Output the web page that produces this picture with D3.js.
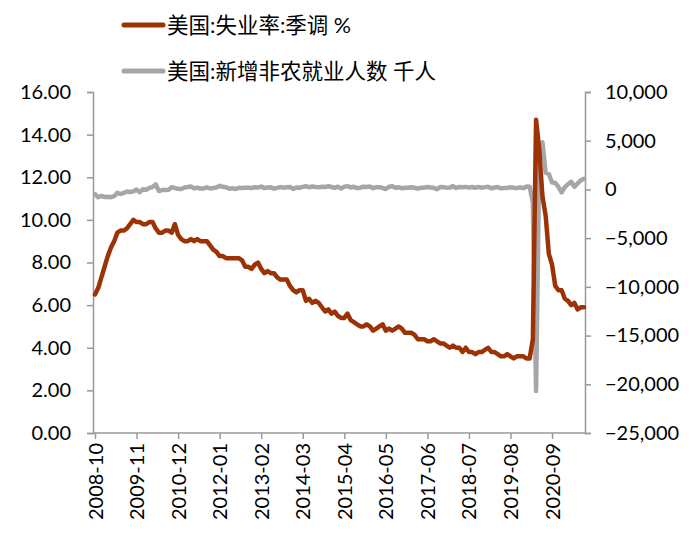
<!DOCTYPE html>
<html><head><meta charset="utf-8">
<script src="https://cdn.jsdelivr.net/npm/d3@7"></script>
<style>body{margin:0;background:#fff}text{font-family:Lato,"Noto Sans CJK SC",sans-serif}</style>
</head><body><div id="chart"></div>
<script>
// monthly series from 2008-10 to 2021-07
const startYear = 2008, startMonth = 10;
const unemployment = [
  6.5,6.8,7.3,
  7.8,8.3,8.7,9.0,9.4,9.5,9.5,9.6,9.8,10.0,9.9,9.9,
  9.8,9.8,9.9,9.9,9.6,9.4,9.4,9.5,9.5,9.4,9.8,9.3,
  9.1,9.0,9.0,9.1,9.0,9.1,9.0,9.0,9.0,8.8,8.6,8.5,
  8.3,8.3,8.2,8.2,8.2,8.2,8.2,8.1,7.8,7.8,7.7,7.9,
  8.0,7.7,7.5,7.6,7.5,7.5,7.3,7.2,7.2,7.2,6.9,6.7,
  6.6,6.7,6.7,6.2,6.3,6.1,6.2,6.1,5.9,5.7,5.8,5.6,
  5.7,5.5,5.4,5.4,5.6,5.3,5.2,5.1,5.0,5.0,5.1,5.0,
  4.8,4.9,5.0,5.1,4.8,4.9,4.8,4.9,5.0,4.9,4.7,4.7,
  4.7,4.6,4.4,4.4,4.4,4.3,4.3,4.4,4.3,4.2,4.2,4.1,
  4.0,4.1,4.0,4.0,3.8,4.0,3.8,3.8,3.7,3.8,3.8,3.9,
  4.0,3.8,3.8,3.7,3.6,3.6,3.7,3.6,3.5,3.6,3.6,3.6,
  3.5,3.5,4.4,14.7,13.3,11.1,10.2,8.4,7.9,6.9,6.7,6.7,
  6.3,6.2,6.0,6.1,5.8,5.9,5.9
];
const payrolls = [
  -489,-803,-661,
  -784,-743,-800,-695,-345,-469,-351,-212,-258,-199,-7,-280,
  19,-57,158,249,514,-167,-70,-51,-24,230,133,76,
  43,195,244,302,107,186,84,102,220,94,140,197,
  367,264,223,78,114,44,165,150,174,183,153,220,
  187,291,135,192,217,87,159,243,182,214,250,56,
  187,168,264,329,219,304,242,232,269,246,320,247,
  159,286,105,280,337,193,268,133,174,285,255,295,
  132,236,232,147,42,279,323,170,221,128,180,173,
  219,170,73,175,182,240,209,180,14,254,234,175,
  185,346,148,260,230,258,184,256,173,256,178,236,
  267,108,200,242,110,158,159,221,176,149,213,131,
  300,285,-1373,-20679,2833,4846,1726,1583,716,680,264,-306,
  233,536,785,269,614,938,1091
];
const months = unemployment.map((d, i) => {
  const m = startMonth - 1 + i;
  return (startYear + Math.floor(m / 12)) + "-" + String(m % 12 + 1).padStart(2, "0");
});
const leftTicks = [0,2,4,6,8,10,12,14,16];
const rightTicks = [-25000,-20000,-15000,-10000,-5000,0,5000,10000];
const xTickLabels = months.filter((d, i) => i % 13 === 0);

const W = 693, H = 537;
const svg = d3.select("#chart").append("svg").attr("width", W).attr("height", H);
const x = d3.scalePoint().domain(months).range([95, 584]);
const yL = d3.scaleLinear().domain([0, 16]).range([433, 92]);
const yR = d3.scaleLinear().domain([-25000, 10000]).range([433, 92]);

// axes
const gL = svg.append("g").attr("transform", "translate(93,0)")
  .call(d3.axisLeft(yL).tickValues(leftTicks).tickFormat(d3.format(".2f")).tickSize(6).tickPadding(16));
const gR = svg.append("g").attr("transform", "translate(585,0)")
  .call(d3.axisRight(yR).tickValues(rightTicks).tickFormat(d3.format(",")).tickSize(6).tickPadding(14));
const gX = svg.append("g").attr("transform", "translate(0,433)")
  .call(d3.axisBottom(x).tickValues(xTickLabels).tickSize(6).tickSizeOuter(0));
gX.select(".domain").attr("d", "M93,0H585");
gX.selectAll("text").attr("transform", "rotate(-90)").attr("text-anchor", "end")
  .attr("x", -10).attr("y", 0).attr("dy", "0.35em");
[gL, gR, gX].forEach(g => {
  g.selectAll(".domain, line").attr("stroke", "#999").attr("stroke-width", 1.5);
  g.selectAll("text").attr("font-size", 20).attr("fill", "#000");
});

// lines
const lineU = d3.line().x((d, i) => x(months[i])).y(d => yL(d));
const lineP = d3.line().x((d, i) => x(months[i])).y(d => yR(d));
svg.append("path").attr("d", lineP(payrolls)).attr("fill", "none")
  .attr("stroke", "#a6a6a6").attr("stroke-width", 4.5).attr("stroke-linejoin", "round").attr("stroke-linecap", "round");
svg.append("path").attr("d", lineU(unemployment)).attr("fill", "none")
  .attr("stroke", "#9c3306").attr("stroke-width", 4.5).attr("stroke-linejoin", "round").attr("stroke-linecap", "round");

// legend
const legend = [
  {label: "美国:失业率:季调 %", color: "#9c3306", y: 25},
  {label: "美国:新增非农就业人数 千人", color: "#a6a6a6", y: 71}
];
legend.forEach(l => {
  svg.append("line").attr("x1", 124).attr("x2", 163).attr("y1", l.y).attr("y2", l.y)
    .attr("stroke", l.color).attr("stroke-width", 5).attr("stroke-linecap", "round");
  svg.append("text").attr("x", 167).attr("y", l.y).attr("dy", "0.35em")
    .attr("font-size", 21.5).text(l.label);
});
</script></body></html>
